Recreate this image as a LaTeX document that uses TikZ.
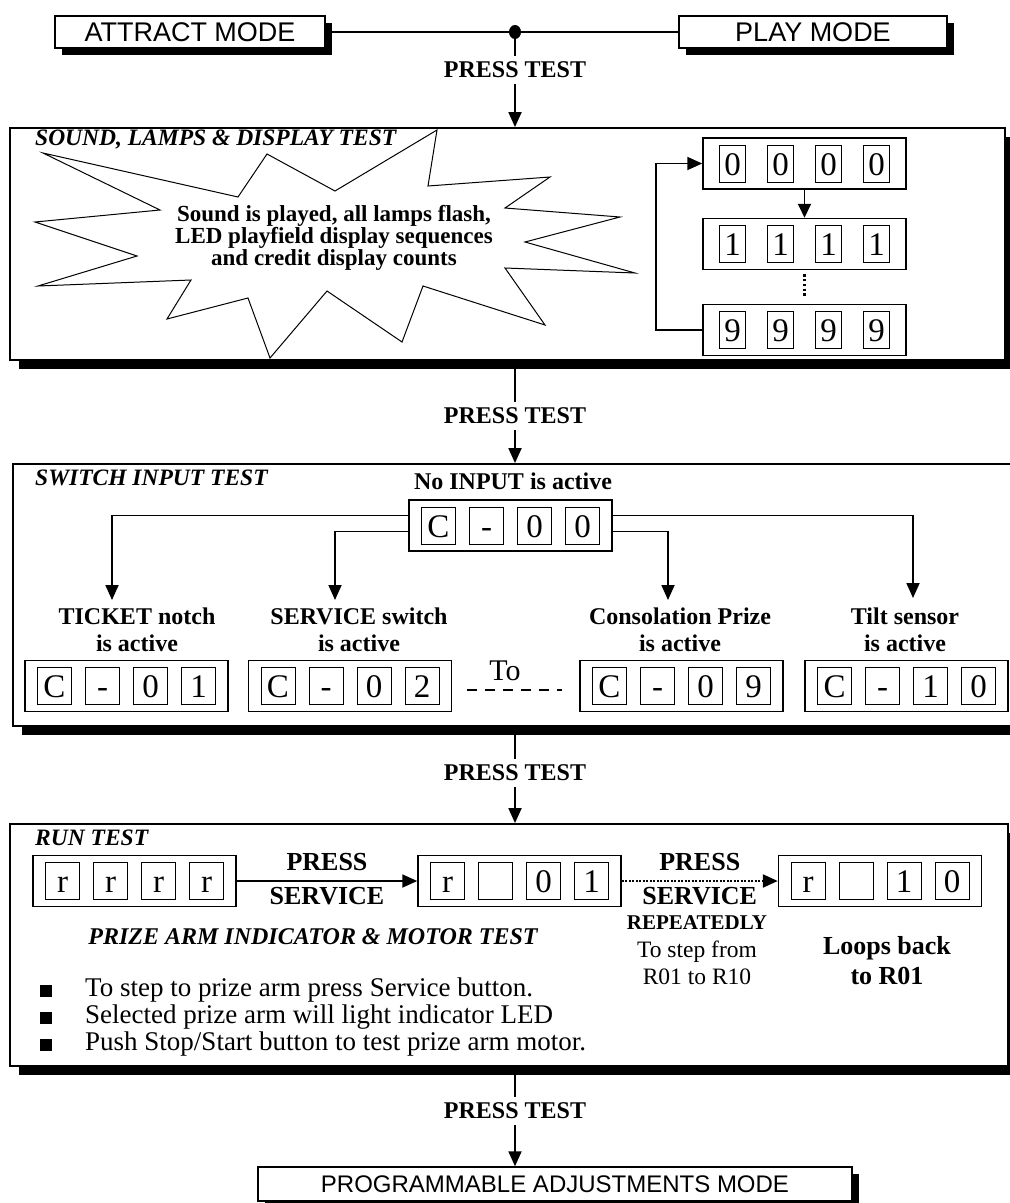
\documentclass[tikz,border=0pt]{standalone}
\usepackage{fontspec}
\setmainfont{Liberation Serif}
\newfontfamily\arialfont{Liberation Sans}
\usetikzlibrary{calc,arrows.meta,positioning,shadows,shapes.geometric}
\newcommand{\fsz}[2]{\fontsize{#1}{#2}\selectfont}
% LED display: name, position, digits, cell width
\newcommand{\ledrow}[4]{%
  \node[ledbox] (#1) at (#2) {};
  \foreach \dg [count=\k] in {#3}
    \node[ledcell, minimum width=#4] (#1-\k) at ($(#1)+(48*\k-120,0)$) {\dg};
}

\begin{document}
\begin{tikzpicture}[x=1pt, y=-1pt,
  modebox/.style={draw, line width=1.4pt, fill=white, inner sep=0pt, minimum height=32pt,
    font=\arialfont\fsz{27}{30},
    drop shadow={shadow xshift=7pt, shadow yshift=-7pt, fill=black, opacity=1}},
  testframe/.style={draw, line width=1.8pt, fill=white, inner sep=0pt,
    drop shadow={shadow xshift=9pt, shadow yshift=-9pt, fill=black, opacity=1}},
  ledbox/.style={draw, line width=1.5pt, minimum width=203pt, minimum height=51pt, inner sep=0pt},
  ledcell/.style={draw, line width=0.8pt, minimum height=37pt, inner sep=0pt,
    text height=23pt, text depth=0pt, font=\fsz{33}{33}},
  flowarrow/.style={-{Triangle[width=13pt,length=15pt]}, line width=1.8pt},
  flowline/.style={line width=1.8pt},
  presslabel/.style={font=\bfseries\fsz{24}{26}, inner sep=6pt},
  boxtitle/.style={anchor=west, inner sep=0pt, font=\bfseries\itshape\fsz{23.5}{26}},
  boldlabel/.style={font=\bfseries\fsz{24}{27}, align=center, inner sep=0pt},
  servlabel/.style={font=\bfseries\fsz{26}{28}, inner sep=1pt},
  bullettext/.style={anchor=west, inner sep=0pt, font=\fsz{27}{29}}]

  \useasboundingbox (0,0) rectangle (1010,1203);

  % Mode boxes and test frames
  \node[modebox, minimum width=270pt] (attract) at (190,32) {ATTRACT MODE};
  \node[modebox, minimum width=268pt] (play) at (813,32) {PLAY MODE};
  \node[testframe, minimum width=995pt, minimum height=232pt] (box1) at (507.5,244) {};
  \node[testframe, minimum width=1002pt, minimum height=262pt] (box2) at (514,595) {};
  \node[testframe, minimum width=998pt, minimum height=242pt] (box3) at (509,945) {};
  \node[modebox, minimum width=594pt, minimum height=34pt, font=\arialfont\fsz{24}{26}]
    (progmode) at (555,1184) {PROGRAMMABLE ADJUSTMENTS MODE\hspace{52pt}};

  % Junction and PRESS TEST steps
  \draw[flowline] (attract) -- (play);
  \node[ellipse, fill, inner sep=0pt, minimum width=12pt, minimum height=14pt] (junction) at (515,32) {};
  \node[presslabel] (press1) at (515,70) {PRESS TEST};
  \node[presslabel] (press2) at (515,416) {PRESS TEST};
  \node[presslabel] (press3) at (515,773) {PRESS TEST};
  \node[presslabel] (press4) at (515,1111) {PRESS TEST};
  \draw[flowline] (junction) -- (press1);
  \draw[flowarrow] (press1) -- (press1 |- box1.north);
  \draw[flowline] (press2 |- box1.south) -- (press2);
  \draw[flowarrow] (press2) -- (press2 |- box2.north);
  \draw[flowline] (press3 |- box2.south) -- (press3);
  \draw[flowarrow] (press3) -- (press3 |- box3.north);
  \draw[flowline] (press4 |- box3.south) -- (press4);
  \draw[flowarrow] (press4) -- (press4 |- progmode.north);

  % Sound, lamps & display test
  \draw[line width=1pt, fill=white] (43,153) -- (238,197) -- (267,154) -- (335,191)
    -- (437,130) -- (428,186) -- (550,177) -- (505,208) -- (620,217) -- (525,242)
    -- (635,273) -- (505,268) -- (545,325) -- (423,286) -- (402,342) -- (327,291)
    -- (270,358) -- (248,298) -- (167,319) -- (191,280) -- (38,286) -- (137,256)
    -- (35,222) -- (160,210) -- cycle;
  \node[boxtitle] (title1) at (35,140) {SOUND, LAMPS \& DISPLAY TEST};
  \node[font=\bfseries\fsz{23}{22}, align=center] (soundtxt) at (334,238)
    {Sound is played, all lamps flash,\\LED playfield display sequences\\and credit display counts};
  \ledrow{zero}{804.5,163.5}{0,0,0,0}{26pt}
  \ledrow{one}{804.5,244}{1,1,1,1}{26pt}
  \ledrow{nine}{804.5,330}{9,9,9,9}{26pt}
  \draw[-{Triangle[width=13pt,length=14pt]}, flowline] (zero) -- (one);
  \draw[line width=2.4pt, dash pattern=on 2.4pt off 2.4pt] ($(one.south)+(0,4)$) -- ($(nine.north)+(0,-7)$);
  \draw[flowarrow] (nine.west) -- ++(-46,0) |- (zero.west);

  % Switch input test
  \node[boxtitle] (title2) at (35,478) {SWITCH INPUT TEST};
  \node[boldlabel] (noinput) at (513,481) {No INPUT is active};
  \ledrow{cnone}{510.5,525.5}{C,-,0,0}{34pt}
  \coordinate (tickettip) at (112,600);
  \coordinate (servicetip) at (335,600);
  \coordinate (prizetip) at (668,600);
  \coordinate (tilttip) at (913,598);
  \draw[flowarrow] ($(cnone.west)+(0,-10)$) -| (tickettip);
  \draw[flowarrow] ($(cnone.west)+(0,6)$) -| (servicetip);
  \draw[flowarrow] ($(cnone.east)+(0,6)$) -| (prizetip);
  \draw[flowarrow] ($(cnone.east)+(0,-10)$) -| (tilttip);
  \node[boldlabel] (ticketlbl) at (137,630) {TICKET notch\\is active};
  \node[boldlabel] (servicelbl) at (359,630) {SERVICE switch\\is active};
  \node[boldlabel] (prizelbl) at (680,630) {Consolation Prize\\is active};
  \node[boldlabel] (tiltlbl) at (905,630) {Tilt sensor\\is active};
  \ledrow{cticket}{126.5,686}{C,-,0,1}{34pt}
  \ledrow{cservice}{350,686}{C,-,0,2}{34pt}
  \ledrow{cprize}{681.5,686}{C,-,0,9}{34pt}
  \ledrow{ctilt}{906.5,686}{C,-,1,0}{34pt}
  \node[font=\fsz{30}{32}, inner sep=0pt] (upto) at (505,671) {To};
  \draw[line width=2pt, dash pattern=on 10pt off 8pt]
    ($(cservice.east)+(15,4)$) -- ($(cprize.west)+(-17,4)$);

  % Run test
  \node[boxtitle] (title3) at (35,838) {RUN TEST};
  \ledrow{rstart}{134.5,881}{r,r,r,r}{34pt}
  \ledrow{rfirst}{519.5,881}{r,{},0,1}{34pt}
  \ledrow{rlast}{880,881}{r,{},1,0}{34pt}
  \draw[flowarrow] (rstart) -- (rfirst)
    node[servlabel, midway, above=8pt] {PRESS}
    node[servlabel, midway, below=4pt] {SERVICE};
  \draw[flowarrow, dash pattern=on 2pt off 1.5pt, line width=2.4pt] (rfirst) -- (rlast)
    node[servlabel, midway, above=8pt] (press5) {PRESS}
    node[servlabel, midway, below=4pt] (service5) {SERVICE};
  \node[font=\bfseries\fsz{21}{23}, inner sep=0pt] (repeat) at (697,923) {REPEATEDLY};
  \node[font=\fsz{23.5}{27}, align=center, inner sep=0pt] (stepnote) at (697,963)
    {To step from\\R01 to R10};
  \node[font=\bfseries\fsz{26}{30}, align=center, inner sep=0pt] (loopnote) at (887,961)
    {Loops back\\to R01};
  \node[font=\bfseries\itshape\fsz{24}{26}, inner sep=0pt] (armtitle) at (313,937)
    {PRIZE ARM INDICATOR \& MOTOR TEST};
  \foreach \txt [count=\i] in {To step to prize arm press Service button.,
      Selected prize arm will light indicator LED,
      Push Stop/Start button to test prize arm motor.} {
    \node[bullettext] (bullet\i) at (85,963+27*\i) {\txt};
    \fill ($(bullet\i.west)+(-45,-5)$) rectangle ++(12,12);
  }
\end{tikzpicture}
\end{document}
